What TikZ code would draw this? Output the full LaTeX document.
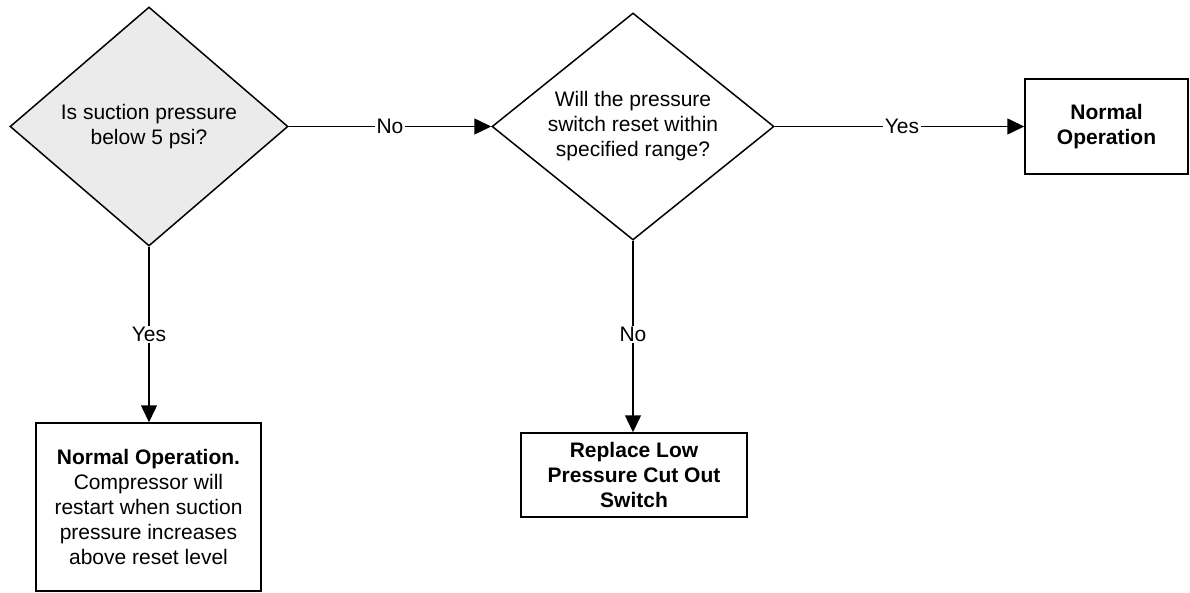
\documentclass[tikz,border=0pt]{standalone}
\usepackage{fontspec}
\setmainfont{Liberation Sans}
\usetikzlibrary{shapes.geometric,arrows.meta}
\begin{document}
\begin{tikzpicture}[x=1pt,y=-1pt,
  every node/.style={font=\fontsize{21}{25}\selectfont},
  decision/.style={diamond,draw,line width=1.5pt,inner sep=0pt,align=center},
  outcome/.style={rectangle,draw,line width=1.5pt,inner sep=0pt,align=center},
  conn/.style={line width=1.5pt,-{Triangle[length=17pt,width=16pt]}},
  lbl/.style={fill=white,inner sep=1.5pt}]
\useasboundingbox (0,0) rectangle (1190,593);
\node[decision,fill=black!8,minimum width=278pt,minimum height=239pt] (d1) at (149,126.5)
  {Is suction pressure\\below 5 psi?};
\node[decision,aspect=1.24,minimum width=282pt,minimum height=227pt] (d2) at (633,126.5)
  {Will the pressure\\switch reset within\\specified range?};
\node[outcome,minimum width=163pt,minimum height=95pt] (b2) at (1106.5,126.5)
  {\bfseries Normal\\\bfseries Operation};
\node[outcome,minimum width=225pt,minimum height=168pt] (b1) at (148.5,507)
  {\bfseries Normal Operation.\\Compressor will\\restart when suction\\pressure increases\\above reset level};
\node[outcome,minimum width=226pt,minimum height=84pt] (b3) at (634,475)
  {\bfseries Replace Low\\\bfseries Pressure Cut Out\\\bfseries Switch};
\draw[conn] (d1.east) -- node[lbl,pos=0.5]{No} (d2.west);
\draw[conn] (d2.east) -- node[lbl,pos=0.51]{Yes} (b2.west);
\draw[conn] (d1.south) -- node[lbl,pos=0.5]{Yes} (d1.south |- b1.north);
\draw[conn] (d2.south) -- node[lbl,pos=0.49]{No} (d2.south |- b3.north);
\end{tikzpicture}
\end{document}
